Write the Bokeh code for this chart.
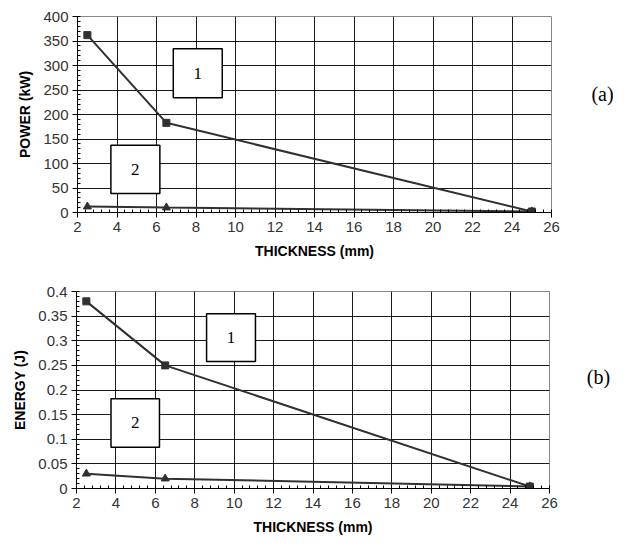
from bokeh.plotting import figure
from bokeh.layouts import column, row
from bokeh.models import Range1d, SingleIntervalTicker
from bokeh.core.properties import value
from bokeh.embed import file_html
from bokeh.resources import INLINE

# ---- data ----
thickness = [2.5, 6.5, 25]
power_1 = [362, 183, 2]
power_2 = [12, 10, 2]
energy_1 = [0.38, 0.25, 0.004]
energy_2 = [0.03, 0.02, 0.004]
energy_ticks = [0, 0.05, 0.1, 0.15, 0.2, 0.25, 0.3, 0.35, 0.4]
energy_tick_labels = ["0", "0.05", "0.1", "0.15", "0.2", "0.25", "0.3", "0.35", "0.4"]
panel_labels = ["(a)", "(b)"]

LINE = "#303030"
TICK_FONT = "Liberation Sans"
MAIN_W = 560
SIDE_W = 53


def make_fig(height, ymax, ystep, ylabel, bl, br, bt, bb):
    p = figure(width=MAIN_W, height=height, output_backend="svg", toolbar_location=None,
               x_range=Range1d(2, 26), y_range=Range1d(0, ymax),
               min_border_left=bl, min_border_right=br, min_border_top=bt, min_border_bottom=bb)
    p.xaxis.ticker = SingleIntervalTicker(interval=2, num_minor_ticks=5)
    p.yaxis.ticker = SingleIntervalTicker(interval=ystep, num_minor_ticks=5)
    p.outline_line_color = "#888888"
    p.outline_line_width = 1
    for g in (p.xgrid, p.ygrid):
        g.grid_line_color = "#000000"
        g.grid_line_width = 1
        g.grid_line_alpha = 0.9
    for ax in (p.xaxis, p.yaxis):
        ax.axis_line_color = "#000000"
        ax.axis_line_width = 1
        ax.major_tick_line_color = "#000000"
        ax.major_tick_out = 5
        ax.major_tick_in = 0
        ax.minor_tick_line_color = "#000000"
        ax.minor_tick_in = 3
        ax.minor_tick_out = 0
        ax.major_label_text_font = TICK_FONT
        ax.major_label_text_font_size = "15px"
        ax.major_label_text_color = "#333333"
        ax.axis_label_text_font = TICK_FONT
        ax.axis_label_text_font_style = "bold"
        ax.axis_label_text_font_size = "14px"
        ax.axis_label_text_color = "#000000"
    p.xaxis.axis_label = "THICKNESS (mm)"
    p.xaxis.major_label_standoff = 4
    p.xaxis.axis_label_standoff = 8
    p.yaxis.axis_label = ylabel
    p.yaxis.major_label_standoff = 4
    p.yaxis.axis_label_standoff = 7
    p.background_fill_color = "white"
    p.border_fill_color = "white"
    return p


def add_box(p, left, right, bottom, top, txt):
    p.quad(left=left, right=right, bottom=bottom, top=top,
           fill_color="white", line_color="#000000", line_width=1.5)
    p.text(x=[(left + right) / 2], y=[(bottom + top) / 2], text=[txt],
           text_align="center", text_baseline="middle",
           text_font=value("Liberation Serif"), text_font_size="17px", text_color="#000000")


def side_label(height, cx, cy, txt):
    s = figure(width=SIDE_W, height=height, output_backend="svg", toolbar_location=None,
               x_range=Range1d(0, SIDE_W), y_range=Range1d(0, height),
               min_border=0, min_border_left=0, min_border_right=0,
               min_border_top=0, min_border_bottom=0)
    s.axis.visible = False
    s.grid.visible = False
    s.outline_line_color = None
    s.text(x=[cx], y=[cy], text=[txt], text_align="center", text_baseline="middle",
           text_font=value("Liberation Serif"), text_font_size="20px", text_color="#000000")
    return s


# ---- top panel (a) ----
H1 = 265
pa = make_fig(H1, 400, 50, "POWER (kW)", 77, MAIN_W - 77 - 474, 16, 53)
pa.line(thickness, power_1, line_color=LINE, line_width=2)
pa.scatter(thickness, power_1, marker="square", size=7, fill_color=LINE, line_color=LINE)
pa.line(thickness, power_2, line_color=LINE, line_width=2)
pa.scatter(thickness, power_2, marker="triangle", size=8, fill_color=LINE, line_color=LINE)
add_box(pa, 6.85, 9.33, 234, 334, "1")
add_box(pa, 3.69, 6.17, 39, 137, "2")
sa = side_label(H1, 42, H1 - 105, panel_labels[0])

# ---- bottom panel (b) ----
H2 = 280
pb = make_fig(H2, 0.4, 0.05, "ENERGY (J)", 76, MAIN_W - 76 - 473, 26, 57)
pb.yaxis.major_label_overrides = {t: s for t, s in zip(energy_ticks, energy_tick_labels)}
pb.line(thickness, energy_1, line_color=LINE, line_width=2)
pb.scatter(thickness, energy_1, marker="square", size=7, fill_color=LINE, line_color=LINE)
pb.line(thickness, energy_2, line_color=LINE, line_width=2)
pb.scatter(thickness, energy_2, marker="triangle", size=8, fill_color=LINE, line_color=LINE)
add_box(pb, 8.6, 11.08, 0.258, 0.355, "1")
add_box(pb, 3.75, 6.21, 0.084, 0.182, "2")
sb = side_label(H2, 38, H2 - 121, panel_labels[1])

layout = column(row(pa, sa, spacing=0), row(pb, sb, spacing=0), spacing=0)
open("out.html", "w").write(file_html(layout, INLINE))
